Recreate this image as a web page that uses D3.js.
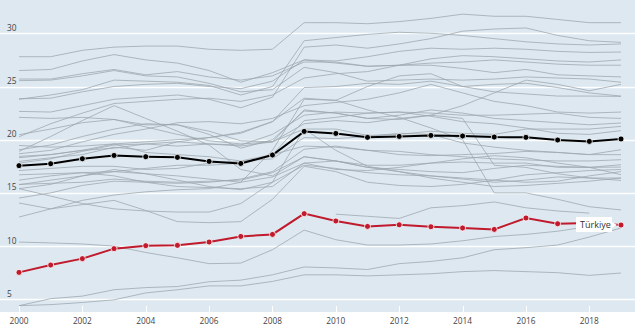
<!DOCTYPE html>
<html><head><meta charset="utf-8">
<script src="https://cdn.jsdelivr.net/npm/d3@7"></script>
<style>
html,body{margin:0;padding:0;background:#fff;}
svg{display:block;}
text{font-family:"Open Sans","Noto Sans",sans-serif;}
</style></head>
<body>
<svg id="chart" width="635" height="330"></svg>
<script>
const years = [2000,2001,2002,2003,2004,2005,2006,2007,2008,2009,2010,2011,2012,2013,2014,2015,2016,2017,2018,2019];
const xTicks = [2000,2002,2004,2006,2008,2010,2012,2014,2016,2018];
const yTicks = [5,10,15,20,25,30];

const oecd = [17.56,17.74,18.21,18.52,18.40,18.34,17.96,17.77,18.56,20.78,20.59,20.22,20.31,20.40,20.35,20.25,20.22,19.97,19.84,20.07];
const turkiye = [7.53,8.22,8.82,9.76,10.04,10.07,10.38,10.91,11.10,13.05,12.36,11.85,12.00,11.82,11.70,11.57,12.64,12.10,12.17,11.98];

const FRA = [27.8,27.8,28.4,28.7,28.8,28.8,28.5,28.4,28.5,31.0,31.0,30.9,31.1,31.4,31.8,31.6,31.6,31.3,31.0,31.0];
const SWE = [26.5,26.6,27.4,28.0,27.5,27.2,26.5,25.4,26.3,27.5,27.2,26.9,27.0,27.0,26.7,26.3,26.6,26.1,26.0,25.9];
const AUT = [25.7,25.7,26.2,26.6,26.1,26.4,25.9,25.6,26.0,27.3,27.3,26.9,27.0,27.2,27.3,27.5,27.3,27.1,27.0,27.0];
const DEU = [25.55,25.6,26.0,26.5,26.0,25.9,25.3,24.5,24.7,26.8,26.3,25.5,25.6,25.7,25.6,25.7,25.9,25.8,25.7,25.4];
const DNK = [23.8,24.2,24.7,25.6,25.5,25.4,25.1,24.2,25.0,29.3,29.6,29.9,30.1,30.0,29.8,29.5,29.2,29.0,28.9,29.0];
const BEL = [23.85,23.9,24.5,25.0,25.2,25.3,25.0,24.8,25.5,27.5,27.4,27.8,28.3,28.6,28.5,28.6,28.5,28.3,28.2,28.24];
const FIN = [22.66,22.6,23.2,23.8,24.0,24.2,23.8,23.0,24.0,28.7,28.9,28.6,29.0,29.5,30.2,30.4,30.5,29.8,29.3,29.15];
const ITA = [20.28,21.5,22.5,23.4,23.6,23.8,23.9,23.6,24.2,25.8,26.2,26.4,27.0,27.6,27.9,27.8,27.6,27.4,27.3,27.5];
const POL = [22.1,22.0,22.1,21.9,21.4,21.4,20.8,19.9,19.8,21.0,21.0,20.4,20.5,20.8,20.6,20.5,21.0,21.0,21.0,21.25];
const NOR = [20.47,21.0,21.6,21.9,21.2,20.5,19.9,19.6,19.8,22.8,22.5,22.0,21.9,22.3,23.2,24.4,25.6,25.2,24.6,25.2];
const HUN = [18.9,20.3,21.8,23.2,22.0,20.8,19.5,17.2,16.6,18.4,18.0,17.4,17.0,16.6,16.3,16.0,16.2,16.5,16.4,16.4];
const ESP = [19.46,19.3,19.4,19.6,19.8,20.0,20.2,20.6,21.7,24.9,25.0,25.3,25.2,25.5,25.0,24.5,24.3,24.1,24.1,24.07];
const GRC = [17.96,18.3,18.6,19.3,19.0,19.8,20.2,20.7,21.7,23.9,23.7,25.0,26.0,26.2,25.0,25.2,25.3,24.9,24.4,24.1];
const PRT = [18.68,19.0,19.8,20.5,21.0,21.6,21.7,21.5,22.0,23.2,23.5,23.8,24.4,25.2,24.4,23.6,23.2,22.6,22.5,22.6];
const GBR = [18.43,18.6,19.0,19.2,19.6,19.8,19.6,19.5,20.5,22.3,22.6,22.5,22.6,22.2,21.7,21.5,21.1,20.6,20.5,20.85];
const JPN = [15.77,16.2,16.6,17.0,17.3,17.6,17.6,17.8,18.6,21.8,22.1,22.5,22.6,22.5,22.3,22.3,22.4,22.5,22.1,22.0];
const NLD = [17.8,18.2,18.9,19.5,19.6,19.4,19.6,19.4,19.8,21.5,21.8,21.6,22.0,22.3,22.0,17.6,17.4,16.8,16.4,16.17];
const LUX = [19.06,19.5,20.3,21.0,21.5,21.4,20.5,19.2,20.0,22.7,22.5,22.0,22.3,22.8,22.5,22.0,21.8,21.6,21.4,21.57];
const CZE = [18.3,18.6,19.0,19.6,18.8,18.6,18.4,18.0,18.2,20.2,20.1,20.3,20.6,20.5,19.7,19.3,19.0,18.8,18.6,19.06];
const NZL = [17.1,17.3,17.5,17.5,17.2,17.3,17.8,18.0,18.6,19.4,19.3,19.0,18.9,18.6,18.4,18.2,18.1,18.0,18.0,18.12];
const AUS = [16.7,16.8,16.9,17.0,16.8,16.6,16.3,16.0,16.5,17.8,17.2,17.1,17.4,17.8,18.2,18.5,18.3,17.8,17.4,16.71];
const SVK = [16.2,16.6,16.9,16.6,16.0,15.6,15.5,15.4,15.6,17.8,18.0,17.6,17.6,17.8,17.9,17.8,17.8,17.4,17.4,17.65];
const CAN = [15.8,15.9,16.0,16.3,16.1,16.0,16.1,16.2,16.9,18.4,18.0,17.4,17.2,17.0,16.9,17.3,17.6,17.5,17.4,17.43];
const ISL = [15.4,15.8,16.6,17.2,16.8,16.2,15.6,15.3,16.0,17.6,17.3,16.9,16.7,16.6,16.4,16.2,16.0,16.1,16.6,17.0];
const USA = [14.52,15.0,15.7,16.1,16.0,15.9,16.0,16.3,17.0,19.1,19.4,19.0,18.6,18.5,18.6,18.7,18.9,18.8,18.6,18.59];
const LTU = [15.4,14.7,14.0,13.5,13.3,13.2,13.2,14.0,16.0,21.0,19.0,17.5,17.0,16.4,16.0,15.6,15.7,15.9,16.1,16.4];
const EST = [14.05,13.5,13.9,14.3,13.35,12.3,12.2,12.3,14.4,17.5,17.0,16.0,15.7,15.6,15.8,16.2,16.7,16.9,17.1,17.2];
const IRL = [12.73,13.5,14.3,14.8,15.1,15.3,15.4,16.0,19.0,23.8,23.7,22.8,22.1,21.1,20.0,15.0,15.0,14.4,13.7,13.4];
const CRI = [null,null,null,null,null,null,null,null,null,null,13.0,12.8,12.6,13.6,13.8,14.15,13.6,13.3,13.1,null];
const CHL = [10.38,10.3,10.2,10.0,9.4,8.9,8.35,8.4,9.66,11.5,10.6,10.1,10.1,10.2,10.5,10.9,11.1,11.4,11.85,12.0];
const KOR = [4.4,5.06,5.3,5.9,6.1,6.2,6.65,6.8,7.3,8.04,7.95,7.8,8.35,8.56,8.9,9.66,9.85,10.1,10.85,11.7];
const MEX = [4.4,4.5,4.7,4.95,5.6,5.9,6.26,6.26,6.68,7.3,7.3,7.2,7.3,7.4,7.6,7.7,7.6,7.5,7.25,7.47];

const others = [FRA,SWE,AUT,DEU,DNK,BEL,FIN,ITA,POL,NOR,HUN,ESP,GRC,PRT,GBR,JPN,NLD,LUX,CZE,NZL,AUS,SVK,CAN,ISL,USA,LTU,EST,IRL,CRI,CHL,KOR,MEX];

const W = 635, H = 330, plotBottom = 312;
const svg = d3.select("#chart");
const x = d3.scaleLinear().domain([2000, 2019]).range([19, 621]);
const y = d3.scaleLinear().domain([5, 30]).range([299.3, 33.3]);

svg.append("rect").attr("x",0).attr("y",0).attr("width",W).attr("height",plotBottom).attr("fill","#dde8f1");

svg.append("g").selectAll("line").data(yTicks).join("line")
  .attr("x1",0).attr("x2",W)
  .attr("y1",d=>Math.round(y(d))+0.5).attr("y2",d=>Math.round(y(d))+0.5)
  .attr("stroke","#fff").attr("stroke-width",1.3);
svg.append("g").selectAll("text").data(yTicks).join("text")
  .attr("x",7).attr("y",d=>y(d)-2.5)
  .attr("font-size",8.3).attr("fill","#444").text(d=>d);

const line = d3.line().defined(d=>d!=null).x((d,i)=>x(years[i])).y(d=>y(d));

svg.append("g").selectAll("path").data(others).join("path")
  .attr("d",line).attr("fill","none")
  .attr("stroke","#9ba6ae").attr("stroke-width",0.9).attr("stroke-opacity",0.85);

function highlight(data, color){
  svg.append("path").datum(data).attr("d",line).attr("fill","none")
    .attr("stroke",color).attr("stroke-width",2);
  svg.append("g").selectAll("circle").data(data).join("circle")
    .attr("cx",(d,i)=>x(years[i])).attr("cy",d=>y(d)).attr("r",3)
    .attr("fill",color).attr("stroke","#fff").attr("stroke-width",0.8);
}
highlight(oecd, "#000");
highlight(turkiye, "#c01a2c");

const lx = x(2019), ly = y(turkiye[19]);
const lab = svg.append("g");
lab.append("path")
  .attr("d",`M${lx-45},${ly-8} L${lx-9},${ly-8} L${lx-9},${ly-3} L${lx-4},${ly} L${lx-9},${ly+3} L${lx-9},${ly+7} L${lx-45},${ly+7} Z`)
  .attr("fill","#fff");
lab.append("text").attr("x",lx-41).attr("y",ly+3).attr("font-size",9).attr("fill","#333").text("Türkiye");

svg.append("g").selectAll("line").data(xTicks).join("line")
  .attr("x1",d=>Math.round(x(d))+0.5).attr("x2",d=>Math.round(x(d))+0.5)
  .attr("y1",306).attr("y2",plotBottom).attr("stroke","#fff").attr("stroke-width",1);
svg.append("g").selectAll("text").data(xTicks).join("text")
  .attr("x",d=>x(d)).attr("y",324).attr("text-anchor","middle")
  .attr("font-size",8.3).attr("fill","#444").text(d=>d);
</script>
</body></html>
